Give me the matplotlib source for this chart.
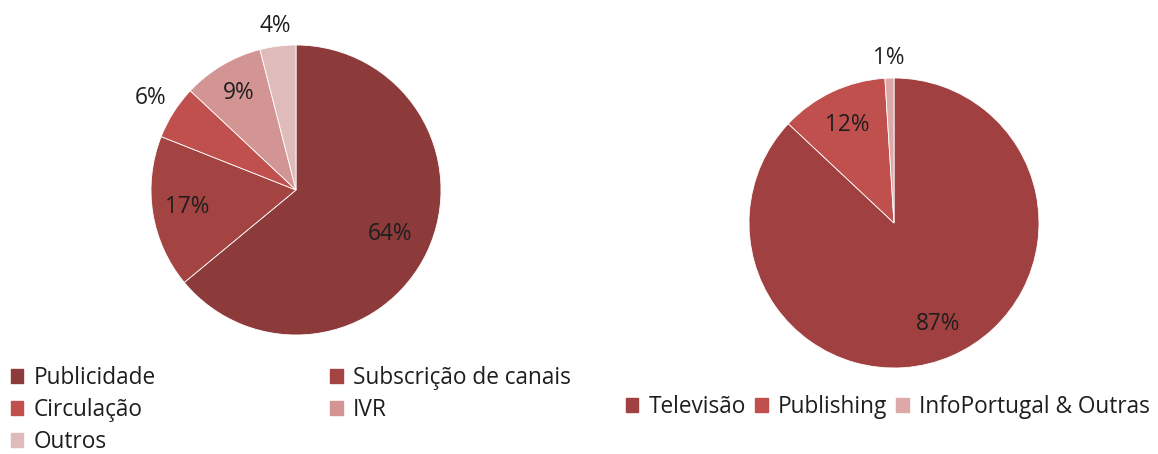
import numpy as np
import matplotlib.pyplot as plt
from matplotlib.patches import Patch

plt.rcParams['font.family'] = ['Open Sans', 'DejaVu Sans']

# left chart: revenue by type
left_labels = ['Publicidade', 'Subscrição de canais', 'Circulação', 'IVR', 'Outros']
left_values = [64, 17, 6, 9, 4]
left_colors = ['#8C3A3A', '#A44442', '#C0504D', '#D39494', '#E0BBBB']
left_dist = [0.72, 0.76, 1.19, 0.78, 1.14]

# right chart: revenue by segment
right_labels = ['Televisão', 'Publishing', 'InfoPortugal & Outras']
right_values = [87, 12, 1]
right_colors = ['#A04040', '#C0504D', '#DDA8A8']
right_dist = [0.76, 0.75, 1.14]

W, H = 1158, 454
fig = plt.figure(figsize=(W / 100, H / 100), dpi=100)
txt = '#1e1e1e'
fs = 16.3


def draw_pie(cx, cy, r, values, colors, dists):
    ax = fig.add_axes([(cx - r) / W, 1 - (cy + r) / H, 2 * r / W, 2 * r / H])
    wedges, _ = ax.pie(values, colors=colors, startangle=90, counterclock=False,
                       radius=1, wedgeprops=dict(edgecolor='white', linewidth=0.6))
    ax.set_xlim(-1, 1)
    ax.set_ylim(-1, 1)
    ax.set_aspect('equal')
    for w, v, d in zip(wedges, values, dists):
        a = np.deg2rad((w.theta1 + w.theta2) / 2)
        ax.text(d * np.cos(a), d * np.sin(a), f'{v}%', ha='center', va='center',
                fontsize=fs, color=txt, clip_on=False)
    return wedges


lw = draw_pie(296, 190, 145, left_values, left_colors, left_dist)
rw = draw_pie(894, 223, 145, right_values, right_colors, right_dist)

# left legend, row-wise order in two columns
lh = [Patch(color=c) for c in left_colors]
order = [0, 2, 4, 1, 3]
leg1 = fig.legend([lh[i] for i in order], [left_labels[i] for i in order],
                  ncol=2, loc='upper left', bbox_to_anchor=(11 / W, 1 - 366 / H),
                  frameon=False, fontsize=fs, handlelength=0.55, handleheight=0.55,
                  handletextpad=0.45, columnspacing=7.7, labelspacing=0.36,
                  borderaxespad=0, borderpad=0)
for t in leg1.get_texts():
    t.set_color(txt)

rh = [Patch(color=c) for c in right_colors]
leg2 = fig.legend(rh, right_labels, ncol=3, loc='upper left',
                  bbox_to_anchor=(626 / W, 1 - 395 / H), frameon=False, fontsize=fs,
                  handlelength=0.55, handleheight=0.55, handletextpad=0.45,
                  columnspacing=0.4, borderaxespad=0, borderpad=0)
for t in leg2.get_texts():
    t.set_color(txt)

fig.savefig('out.png', dpi=100)
